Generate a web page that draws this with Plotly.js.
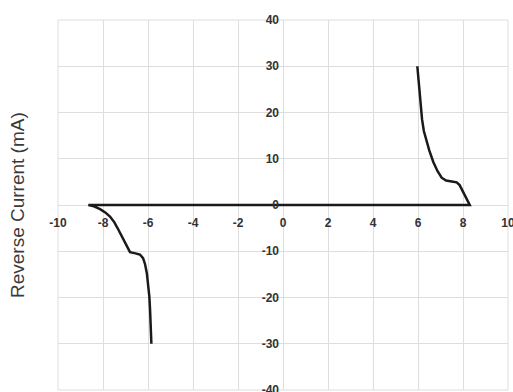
<!DOCTYPE html>
<html>
<head>
<meta charset="utf-8">
<script src="https://cdn.plot.ly/plotly-3.0.1.min.js"></script>
<style>
  html, body { margin: 0; padding: 0; background: #ffffff; }
  #chart { width: 513px; height: 392px; }
</style>
</head>
<body>
<div id="chart"></div>
<script>
// Zener-style reverse characteristic: positive branch, flat zero run, negative branch
const voltage = [5.97, 6.02, 6.07, 6.12, 6.18, 6.26, 6.36, 6.5, 6.68, 6.87, 7.05, 7.25, 7.5, 7.72, 7.85, 7.95, 8.08, 8.2, 8.3,
                 -8.65, -8.4, -8.13, -7.9, -7.69, -7.5, -7.32, -7.15, -7.02, -6.9, -6.8, -6.6, -6.36, -6.22, -6.13, -6.05, -5.99, -5.94, -5.91, -5.88, -5.85];
const current = [30, 27, 24.5, 21.5, 18.5, 16, 14, 11.8, 9.3, 7.3, 5.9, 5.3, 5.1, 4.9, 4.3, 3.3, 2, 0.8, 0,
                 0, -0.3, -0.9, -1.6, -2.5, -3.7, -5.3, -6.9, -8.3, -9.5, -10.2, -10.4, -10.7, -11.5, -12.8, -14.8, -17, -19.8, -22.5, -26, -30];

const xTicks = [-10, -8, -6, -4, -2, 0, 2, 4, 6, 8, 10];
const yTicks = [-40, -30, -20, -10, 0, 10, 20, 30, 40];
const yTitle = 'Reverse Current (mA)';

const tickFont = { family: 'Arial, "Liberation Sans", sans-serif', size: 12, color: '#333333', weight: 'bold' };

const trace = {
  x: voltage,
  y: current,
  type: 'scatter',
  mode: 'lines',
  line: { color: '#1a1a1a', width: 2.5, shape: 'linear' },
  hoverinfo: 'skip'
};

const layout = {
  width: 513,
  height: 392,
  margin: { l: 58, r: 5, t: 20, b: 2 },
  paper_bgcolor: '#ffffff',
  plot_bgcolor: '#ffffff',
  showlegend: false,
  xaxis: {
    range: [-10, 10],
    tickvals: xTicks,
    ticktext: xTicks.map(String),
    anchor: 'free',
    position: 0.5,
    showgrid: true,
    gridcolor: '#dedede',
    gridwidth: 1,
    zeroline: false,
    showline: false,
    ticks: '',
    ticklabelstandoff: 9,
    ticklabeloverflow: 'allow',
    tickfont: tickFont,
    fixedrange: true
  },
  yaxis: {
    range: [-40, 40],
    tickvals: yTicks,
    ticktext: yTicks.map(String),
    anchor: 'free',
    position: 0.5,
    showgrid: true,
    gridcolor: '#dedede',
    gridwidth: 1,
    zeroline: false,
    showline: false,
    ticks: '',
    ticklabelstandoff: 4,
    ticklabeloverflow: 'allow',
    tickfont: tickFont,
    fixedrange: true
  },
  shapes: [
    {
      type: 'rect', xref: 'paper', yref: 'paper',
      x0: 0, x1: 1, y0: 0, y1: 1,
      line: { color: '#dedede', width: 1 },
      layer: 'below'
    }
  ],
  annotations: [
    {
      text: yTitle,
      xref: 'paper', yref: 'paper',
      x: -0.091, y: 0.5,
      xanchor: 'center', yanchor: 'middle',
      textangle: -90,
      showarrow: false,
      font: { family: 'Arial, "Liberation Sans", sans-serif', size: 19, color: '#3a3a3a' }
    }
  ]
};

Plotly.newPlot('chart', [trace], layout, { displayModeBar: false, staticPlot: true });
</script>
</body>
</html>
